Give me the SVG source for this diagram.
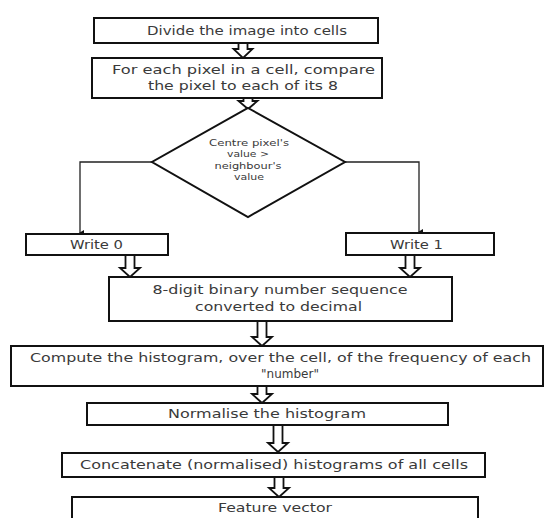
<svg xmlns="http://www.w3.org/2000/svg" width="545" height="518" viewBox="0 0 545 518">
<defs>
<style>
.box{fill:#fff;stroke:#111;stroke-width:2}
.t{font-family:"DejaVu Sans","Liberation Sans",sans-serif;font-size:12px;fill:#3a3a3a;text-anchor:middle}
.s{font-family:"DejaVu Sans","Liberation Sans",sans-serif;font-size:8.5px;fill:#3a3a3a;text-anchor:middle}
.ha{fill:#fff;stroke:#111;stroke-width:1.8;stroke-linejoin:miter}
.ln{fill:none;stroke:#222;stroke-width:1.3}
</style>
<marker id="ah" markerWidth="6" markerHeight="6" refX="3" refY="5" orient="auto" markerUnits="userSpaceOnUse" viewBox="0 0 6 6">
<path d="M0,1 L6,1 L3,6 Z" fill="#111"/>
</marker>
</defs>
<rect width="545" height="518" fill="#fff"/>

<g id="connectors">
<path class="ln" d="M152,162 H80 V233" marker-end="url(#ah)"/>
<path class="ln" d="M345,162 H419 V232" marker-end="url(#ah)"/>
<path class="ha" d="M238.5,42 V49 H233.5 L243,58 L252.5,49 H247.5 V42 Z"/>
<path class="ha" d="M243.5,97 V101 H238.5 L248,109 L257.5,101 H252.5 V97 Z"/>
<path class="ha" d="M125.5,255 V268 H120 L130,277 L140,268 H134.5 V255 Z"/>
<path class="ha" d="M405.5,255 V268 H400 L410,277 L420,268 H414.5 V255 Z"/>
<path class="ha" d="M257.5,321 V337 H252 L262,346 L272,337 H266.5 V321 Z"/>
<path class="ha" d="M257.5,386 V394 H252 L262,403 L272,394 H266.5 V386 Z"/>
<path class="ha" d="M273.5,425 V443 H268 L278,452 L288,443 H282.5 V425 Z"/>
<path class="ha" d="M274.5,477 V488 H269 L279,497 L289,488 H283.5 V477 Z"/>
</g>

<g id="n1">
<rect class="box" x="94" y="18" width="284" height="25"/>
<text class="t" x="247" y="35" textLength="200" lengthAdjust="spacingAndGlyphs">Divide the image into cells</text>
</g>
<g id="n2">
<rect class="box" x="92" y="58" width="290" height="40"/>
<text class="t" x="243.5" y="74" textLength="263" lengthAdjust="spacingAndGlyphs">For each pixel in a cell, compare</text>
<text class="t" x="243" y="90" textLength="190" lengthAdjust="spacingAndGlyphs">the pixel to each of its 8</text>
</g>
<g id="n3">
<polygon class="box" points="248,108 345,162 248,217 152,162"/>
<text class="s" x="249" y="146" textLength="80" lengthAdjust="spacingAndGlyphs">Centre pixel's</text>
<text class="s" x="248" y="157" textLength="42" lengthAdjust="spacingAndGlyphs">value &gt;</text>
<text class="s" x="248" y="169" textLength="67" lengthAdjust="spacingAndGlyphs">neighbour's</text>
<text class="s" x="249" y="180" textLength="30" lengthAdjust="spacingAndGlyphs">value</text>
</g>
<g id="n4">
<rect class="box" x="26" y="234" width="142" height="21"/>
<text class="t" x="96.5" y="249" textLength="53" lengthAdjust="spacingAndGlyphs">Write 0</text>
</g>
<g id="n5">
<rect class="box" x="346" y="233" width="148" height="22"/>
<text class="t" x="416.5" y="249" textLength="53" lengthAdjust="spacingAndGlyphs">Write 1</text>
</g>
<g id="n6">
<rect class="box" x="109" y="277" width="343" height="44"/>
<text class="t" x="280" y="294" textLength="255" lengthAdjust="spacingAndGlyphs">8-digit binary number sequence</text>
<text class="t" x="278.5" y="311" textLength="167" lengthAdjust="spacingAndGlyphs">converted to decimal</text>
</g>
<g id="n7">
<rect class="box" x="11" y="346" width="532" height="40"/>
<text class="t" x="280.5" y="362" textLength="501" lengthAdjust="spacingAndGlyphs">Compute the histogram, over the cell, of the frequency of each</text>
<text class="t" x="290" y="378">"number"</text>
</g>
<g id="n8">
<rect class="box" x="87" y="403" width="361" height="22"/>
<text class="t" x="267" y="418" textLength="198" lengthAdjust="spacingAndGlyphs">Normalise the histogram</text>
</g>
<g id="n9">
<rect class="box" x="62" y="453" width="423" height="24"/>
<text class="t" x="274" y="469" textLength="388" lengthAdjust="spacingAndGlyphs">Concatenate (normalised) histograms of all cells</text>
</g>
<g id="n10">
<rect class="box" x="72" y="497" width="406" height="30"/>
<text class="t" x="275" y="512" textLength="114" lengthAdjust="spacingAndGlyphs">Feature vector</text>
</g>
</svg>
